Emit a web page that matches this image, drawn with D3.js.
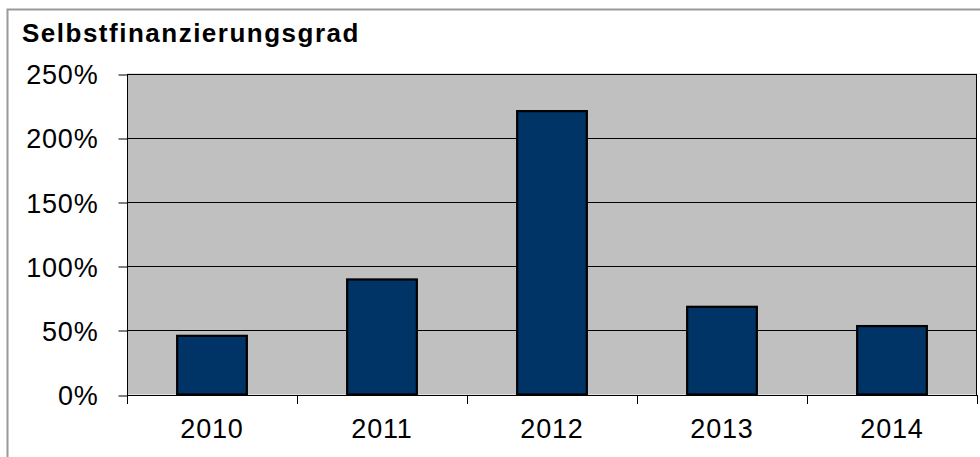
<!DOCTYPE html>
<meta charset="utf-8">
<style>
  body { margin: 0; background: #fff; }
  svg text { font-family: "Liberation Sans", Arial, sans-serif; fill: #000; }
</style>
<script src="https://d3js.org/d3.v7.min.js"></script>
<div id="chart"></div>
<script>
// data
var years = ["2010", "2011", "2012", "2013", "2014"];
var ratio = [45.7, 89.6, 220.7, 68.3, 53.3]; // percent
var yTicks = [0, 50, 100, 150, 200, 250];
var title = "Selbstfinanzierungsgrad";

var W = 980, H = 457;
var plot = {left: 127, right: 977, top: 73.5, bottom: 394.5};

var svg = d3.select("#chart").append("svg")
  .attr("width", W)
  .attr("height", H);

// outer frame (only top and left edges are visible)
svg.append("path")
  .attr("d", "M7.5," + H + " V9.5 H" + W)
  .attr("fill", "none")
  .attr("stroke", "#9a9a9a")
  .attr("stroke-width", 2);

svg.append("text")
  .attr("x", 22)
  .attr("y", 42)
  .style("font-size", "26px")
  .style("font-weight", "bold")
  .style("letter-spacing", "1.5px")
  .text(title);

var x = d3.scaleBand()
  .domain(years)
  .range([plot.left, plot.right])
  .paddingInner(0.59)
  .paddingOuter(0.295);

var y = d3.scaleLinear()
  .domain([0, 250])
  .range([plot.bottom, plot.top]);

// plot background
svg.append("rect")
  .attr("x", plot.left)
  .attr("y", plot.top)
  .attr("width", plot.right - plot.left)
  .attr("height", plot.bottom - plot.top)
  .attr("fill", "#c0c0c0");

// gridlines
svg.selectAll(".grid")
  .data(yTicks)
  .enter()
  .append("line")
  .attr("x1", plot.left)
  .attr("x2", plot.right)
  .attr("y1", function(d) { return Math.round(y(d)) + 0.5; })
  .attr("y2", function(d) { return Math.round(y(d)) + 0.5; })
  .attr("stroke", "#000")
  .attr("stroke-width", 1);

// plot frame
svg.append("rect")
  .attr("x", plot.left + 0.5)
  .attr("y", Math.round(plot.top) + 0.5)
  .attr("width", plot.right - plot.left - 1)
  .attr("height", Math.round(plot.bottom) - Math.round(plot.top))
  .attr("fill", "none")
  .attr("stroke", "#000")
  .attr("stroke-width", 1);

// bars
svg.selectAll(".bar")
  .data(ratio)
  .enter()
  .append("rect")
  .attr("x", function(d, i) { return x(years[i]); })
  .attr("y", function(d) { return y(d); })
  .attr("width", x.bandwidth())
  .attr("height", function(d) { return y(0) - y(d); })
  .attr("fill", "#003366")
  .attr("stroke", "#000")
  .attr("stroke-width", 2.2);

// y axis
var yAxis = svg.append("g")
  .attr("transform", "translate(" + (plot.left + 0.5) + ",0.5)")
  .call(d3.axisLeft(y).tickValues(yTicks).tickSize(9).tickPadding(20)
    .tickFormat(function(d) { return d + "%"; }));
yAxis.select(".domain").remove();
yAxis.selectAll("line").attr("stroke", "#000")
  .attr("transform", function(d) { return "translate(0," + (Math.round(y(d)) - y(d)) + ")"; });
yAxis.selectAll("text")
  .attr("dy", "0.36em")
  .style("font-size", "27px")
  .style("letter-spacing", "0.8px")
  .style("font-family", "'Liberation Sans', Arial, sans-serif");

// x axis: ticks on category boundaries
var bounds = years.map(function(d) { return x(d) - x.step() * x.paddingOuter(); });
bounds.push(plot.right);
svg.selectAll(".xtick")
  .data(bounds)
  .enter()
  .append("line")
  .attr("x1", function(d) { return Math.round(d) + 0.5; })
  .attr("x2", function(d) { return Math.round(d) + 0.5; })
  .attr("y1", Math.round(plot.bottom))
  .attr("y2", Math.round(plot.bottom) + 9)
  .attr("stroke", "#000");

svg.selectAll(".xlab")
  .data(years)
  .enter()
  .append("text")
  .attr("x", function(d) { return x(d) + x.bandwidth() / 2; })
  .attr("y", 438)
  .attr("text-anchor", "middle")
  .style("font-size", "27px")
  .style("letter-spacing", "0.8px")
  .text(function(d) { return d; });
</script>
